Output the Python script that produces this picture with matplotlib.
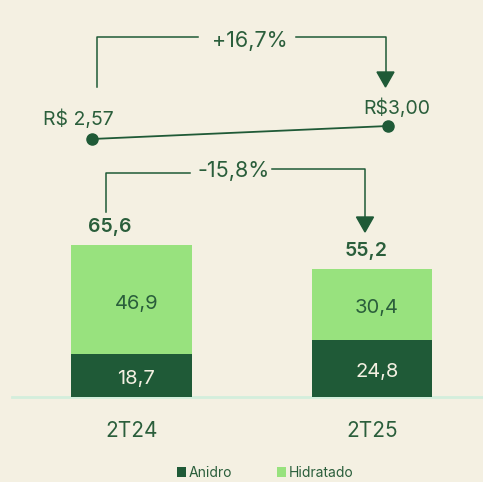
import numpy as np
import matplotlib
matplotlib.use("Agg")
import matplotlib.pyplot as plt
from matplotlib.patches import Polygon

# data
categories = ["2T24", "2T25"]
anidro = [18.7, 24.8]
hidratado = [46.9, 30.4]
totals = [65.6, 55.2]
price = [2.57, 3.00]
price_labels = ["R$ 2,57", "R$3,00"]
var_price = "+16,7%"
var_volume = "-15,8%"

BG = "#f4f0e2"
DARK = "#1f5a37"
LIGHT = "#98e27e"
TXT = "#2a5e3b"
W, H = 483, 482

plt.rcParams["font.family"] = ["Inter", "DejaVu Sans"]

fig = plt.figure(figsize=(W / 100, H / 100), dpi=100, facecolor=BG)
ax = fig.add_axes([0, 0, 1, 1])
ax.set_facecolor(BG)
ax.axis("off")

# scale: baseline at 397px from top, 2.317 px per unit; bars centred at 131.5 and 372 px
px_x = 240.5
px_y = 2.317
x = np.arange(len(categories))
ax.set_xlim(-131.5 / px_x, 1 + (W - 372) / px_x)
ax.set_ylim(-(H - 397) / px_y, 397 / px_y)

ax.bar(x, anidro, width=0.5, color=DARK, label="Anidro")
ax.bar(x, hidratado, width=0.5, bottom=anidro, color=LIGHT, label="Hidratado")
ax.axhline(0, xmin=12 / W, xmax=1, color="#d3eedc", lw=2, zorder=0)

total_dx = [-0.09, -0.025]
for i in range(len(categories)):
    ax.text(x[i] + 0.02, anidro[i] / 2 - 1.7, f"{anidro[i]:.1f}".replace(".", ","),
            ha="center", va="center", color=BG, fontsize=14.5)
    ax.text(x[i] + 0.02, anidro[i] + hidratado[i] / 2 - 1.8, f"{hidratado[i]:.1f}".replace(".", ","),
            ha="center", va="center", color=TXT, fontsize=14.5)
    ax.text(x[i] + total_dx[i], totals[i] + 7.6, f"{totals[i]:.1f}".replace(".", ","),
            ha="center", va="center", color=TXT, fontsize=14, fontweight="semibold")
    ax.text(x[i], -14.8, categories[i], ha="center", va="center", color=TXT, fontsize=15)

# price line on its own scale: 2.57 at 139px, 3.00 at 126px
pax = fig.add_axes([0, 0, 1, 1], sharex=ax)
pax.axis("off")
px_p = 13 / 0.43
pax.set_ylim(2.57 - (H - 139) / px_p, 2.57 + 139 / px_p)
px_pos = [x[0] - 39.5 / px_x, x[1] + 16 / px_x]
pax.plot(px_pos, price, color=DARK, lw=1.3, marker="o", ms=8)
pax.text(px_pos[0] - 14 / px_x, price[0] + 0.64, price_labels[0], ha="center", va="center",
         color=TXT, fontsize=14)
pax.text(px_pos[1] + 9 / px_x, price[1] + 0.6, price_labels[1], ha="center", va="center",
         color=TXT, fontsize=14)


# brackets drawn in pixel coordinates (from top-left)
def P(px, py):
    return px / W, 1 - py / H


def bracket(x0, y0, ytop, x1, ytip, gap, label, lcx, lcy, ytop2=None):
    ytop2 = ytop if ytop2 is None else ytop2
    kw = dict(color=DARK, lw=1.1, transform=fig.transFigure)
    xs, ys = zip(P(x0, y0), P(x0, ytop), P(gap[0], ytop))
    fig.add_artist(plt.Line2D(xs, ys, **kw))
    xs, ys = zip(P(gap[1], ytop2), P(x1, ytop2), P(x1, ytip - 14))
    fig.add_artist(plt.Line2D(xs, ys, **kw))
    tri = Polygon([P(x1 - 8.5, ytip - 15), P(x1 + 8.5, ytip - 15), P(x1, ytip)],
                  closed=True, color=DARK, transform=fig.transFigure)
    fig.add_artist(tri)
    fig.text(*P(lcx, lcy), label, ha="center", va="center", color=TXT, fontsize=15.5)


bracket(97, 87, 37, 385.5, 87, (198, 296), var_price, 250, 41)
bracket(106, 212, 173, 365, 232, (190, 272), var_volume, 234, 171, ytop2=168.5)

# legend
handles, labels = ax.get_legend_handles_labels()
fig.legend(handles, labels, loc="center", bbox_to_anchor=P(265, 473), ncol=2, frameon=False,
           fontsize=10, labelcolor=TXT, handlelength=0.65, handleheight=0.75,
           handletextpad=0.2, columnspacing=3.2)

fig.savefig("out.png", dpi=100, facecolor=BG)
